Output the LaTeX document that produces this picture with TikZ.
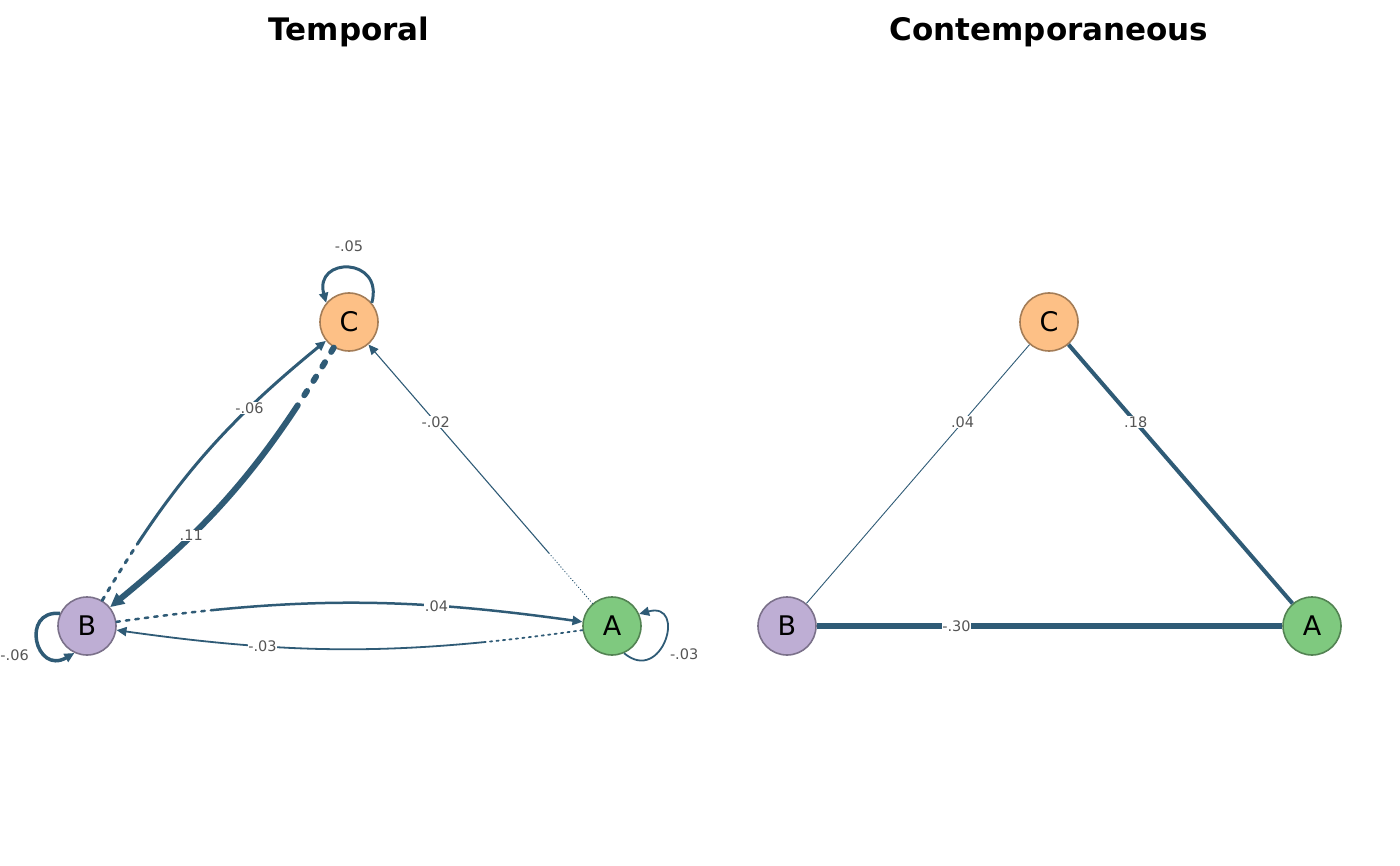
\documentclass[tikz,border=0pt]{standalone}
\usepackage{fontspec}
\setmainfont{DejaVu Sans}
\usepackage{tikz}
\usetikzlibrary{arrows.meta}
\definecolor{edgecol}{HTML}{2F5B76}
\definecolor{labcol}{HTML}{555555}
\definecolor{colA}{HTML}{7FC97F}
\definecolor{colB}{HTML}{BEAED4}
\definecolor{colC}{HTML}{FDC086}

\begin{document}
\begin{tikzpicture}[x=1pt,y=1pt,
   varnode/.style={circle,line width=1.6pt,minimum size=58pt,inner sep=0pt,font=\fontsize{27}{32}\selectfont},
   link/.style={draw=edgecol,line width=#1},
   wlabel/.style={fill=white,text=labcol,inner sep=0.6pt,font=\fontsize{14.5}{17}\selectfont},
   title/.style={font=\bfseries\fontsize{31}{37}\selectfont},
   arr/.style={-{Triangle[length=10pt,width=9pt]}},
   fadestart/.code n args={3}{%
     \def\fadepat{}%
     \foreach \k in {1,...,#3}{\xdef\fadepat{\fadepat on #1 off #2 }}%
     \edef\fadedo{\noexpand\tikzset{dash pattern={\fadepat on 2000pt off 1pt}}}%
     \fadedo}]
   \useasboundingbox (0,0) rectangle (1400,-866);

   % temporal network
   \node[title] (ttemp) at (349,-32) {Temporal};
   \node[varnode,fill=colC,draw=colC!65!black] (C) at (349,-322) {C};
   \node[varnode,fill=colB,draw=colB!65!black] (B) at (87,-626) {B};
   \node[varnode,fill=colA,draw=colA!65!black] (A) at (612,-626) {A};

   \draw[link=3pt,arr,line cap=round,fadestart={4pt}{7pt}{6}] (B) to[bend left=10] node[wlabel,pos=0.72] (wBC) {-.06} (C);
   \draw[link=6pt,-{Triangle[length=14pt,width=13pt]},line cap=round,fadestart={5pt}{12pt}{4}] (C) to[bend left=10] node[wlabel,pos=0.7] (wCB) {.11} (B);
   \draw[link=1.1pt,arr,line cap=round,fadestart={0.4pt}{2.6pt}{22}] (A) -- node[wlabel,pos=0.7] (wAC) {-.02} (C);
   \draw[link=2.5pt,arr,line cap=round,fadestart={3.5pt}{6pt}{10}] (B) to[bend left=8] node[wlabel,pos=0.7] (wBA) {.04} (A);
   \draw[link=1.8pt,arr,line cap=round,fadestart={2.2pt}{4.3pt}{15}] (A) to[bend left=8] node[wlabel,pos=0.7] (wAB) {-.03} (B);

   \draw[link=3pt,arr] (C.40) .. controls +(75:48) and +(105:48) .. node[wlabel,pos=0.5,yshift=22pt] (wCC) {-.05} (C.140);
   \draw[link=3.5pt,arr] (B.155) .. controls +(175:40) and +(210:45) .. node[wlabel,pos=0.5,xshift=-23pt,yshift=-15pt] (wBB) {-.06} (B.245);
   \draw[link=1.8pt,arr] (A.-66) .. controls +(-40:50) and +(15:50) .. node[wlabel,pos=0.5,xshift=20pt,yshift=-13pt] (wAA) {-.03} (A.24);

   % contemporaneous network
   \node[title] (tcont) at (1049,-32) {Contemporaneous};
   \node[varnode,fill=colC,draw=colC!65!black] (C2) at (1049,-322) {C};
   \node[varnode,fill=colB,draw=colB!65!black] (B2) at (787,-626) {B};
   \node[varnode,fill=colA,draw=colA!65!black] (A2) at (1312,-626) {A};

   \draw[link=0.9pt] (B2) -- node[wlabel,pos=0.7] (wBC2) {.04} (C2);
   \draw[link=4pt] (A2) -- node[wlabel,pos=0.7] (wAC2) {.18} (C2);
   \draw[link=6.5pt] (A2) -- node[wlabel,pos=0.7] (wAB2) {-.30} (B2);
\end{tikzpicture}
\end{document}
